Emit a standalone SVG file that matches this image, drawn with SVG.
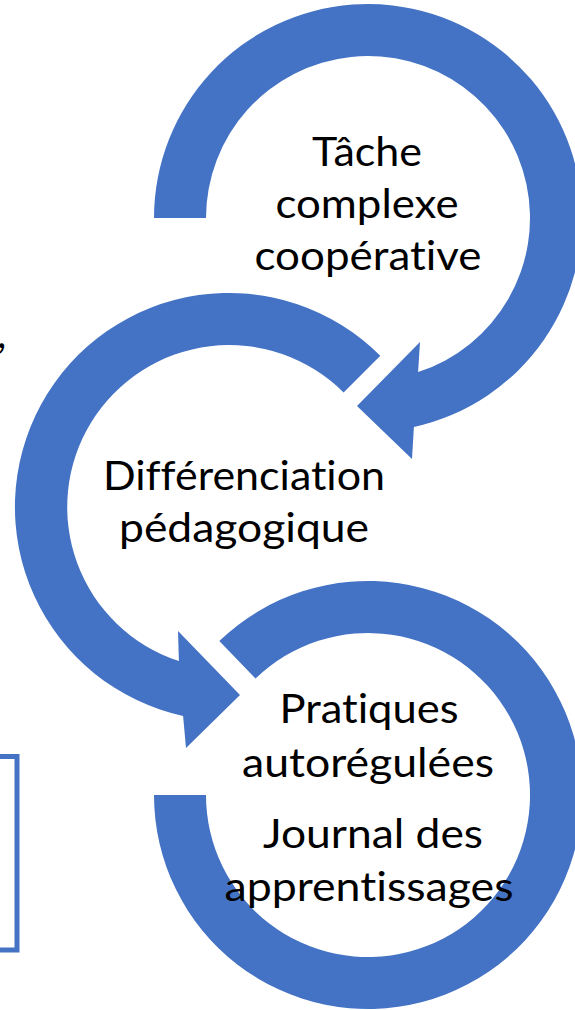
<svg xmlns="http://www.w3.org/2000/svg" width="575" height="1010" viewBox="0 0 575 1010">
<style>
.arc{fill:#4472C4;stroke:none}
.lbl{font-family:Lato,"Open Sans","Liberation Sans",sans-serif;font-size:41px;fill:#000;text-anchor:middle;font-variant-ligatures:none;font-feature-settings:"liga" 0,"clig" 0}
.box{fill:none;stroke:#4472C4;stroke-width:5}
</style>
<rect width="575" height="1010" fill="#fff"/>
<rect class="box" x="-20" y="756.5" width="37" height="193.5"/>
<text x="-3" y="348" style="font-family:Lato,'Open Sans',sans-serif;font-size:41px;fill:#000">,</text>
<g id="connectors"/>
<g id="node-tache">
<path class="arc" d="M154 218 A214 214 0 1 1 413.9 427 L412 459 L357 406 L420 342 L418.1 372.1 A162 162 0 1 0 206 218 Z"/>
</g>
<g id="node-differenciation">
<path class="arc" d="M380.3 355.7 A214 214 0 1 0 183.1 716 L186 748 L240 695 L178 631 L178.9 661.1 A162 162 0 1 1 343.6 392.4 Z"/>
</g>
<g id="node-pratiques">
<path class="arc" d="M219.3 641.1 A214 214 0 1 1 154 795 L206 795 A162 162 0 1 0 255.5 678.5 Z"/>
</g>
<g id="labels">
<text class="lbl" x="367" y="166" textLength="110" lengthAdjust="spacingAndGlyphs">Tâche</text>
<text class="lbl" x="367" y="218" textLength="183" lengthAdjust="spacingAndGlyphs">complexe</text>
<text class="lbl" x="368" y="270" textLength="227" lengthAdjust="spacingAndGlyphs">coopérative</text>
<text class="lbl" x="244" y="490" textLength="282" lengthAdjust="spacingAndGlyphs">Différenciation</text>
<text class="lbl" x="244" y="542" textLength="250" lengthAdjust="spacingAndGlyphs">pédagogique</text>
<text class="lbl" x="369" y="723" textLength="179" lengthAdjust="spacingAndGlyphs">Pratiques</text>
<text class="lbl" x="368" y="777" textLength="252" lengthAdjust="spacingAndGlyphs">autorégulées</text>
<text class="lbl" x="373" y="848" textLength="220" lengthAdjust="spacingAndGlyphs">Journal des</text>
<text class="lbl" x="369" y="901" textLength="289" lengthAdjust="spacingAndGlyphs">apprentissages</text>
</g>
</svg>
